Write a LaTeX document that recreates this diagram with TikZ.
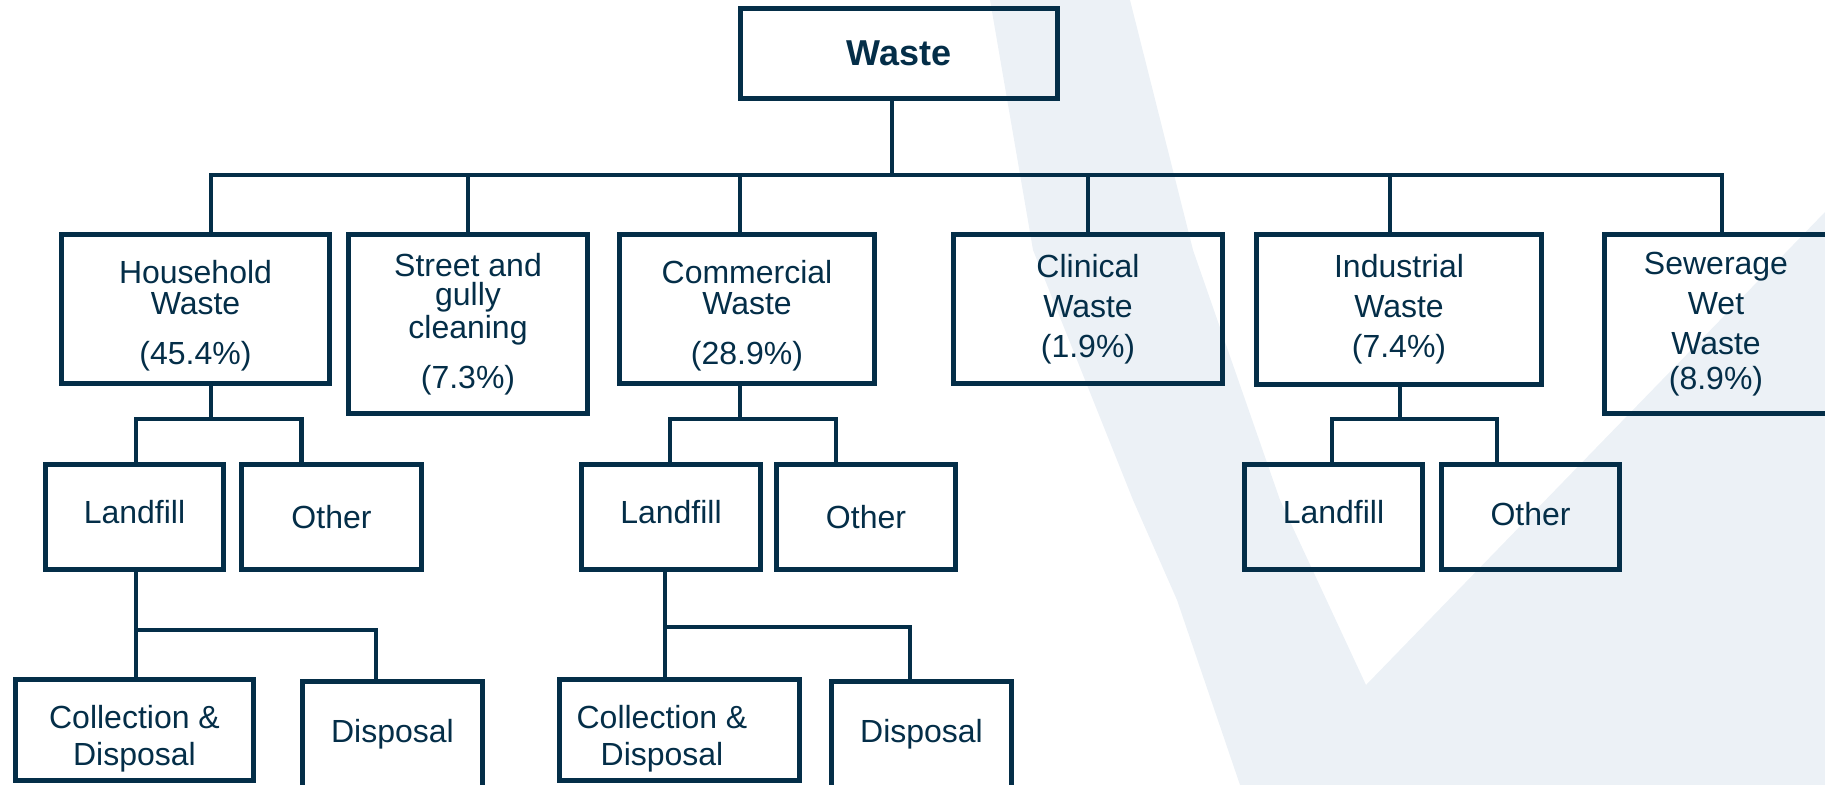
\documentclass[tikz,border=0pt]{standalone}
\usepackage{fontspec}
\setmainfont{Liberation Sans}
\usetikzlibrary{calc}

\definecolor{navy}{RGB}{4,46,72}
\definecolor{markgray}{RGB}{236,241,246}

% invisible struts to nudge the text inside a box
\newcommand{\topgap}[1]{\rule{0pt}{#1}}
\newcommand{\lowgap}[1]{\rule[-#1]{0pt}{#1}}

\tikzset{
    box/.style={draw=navy, line width=2.4pt, text=navy, align=center, inner sep=0pt,
        font=\fontsize{16}{20}\selectfont},
    boxsize/.style 2 args={minimum width=#1*0.5pt, minimum height=#2*0.5pt},
    link/.style={draw=navy, line width=2.2pt}
}

\begin{document}
\begin{tikzpicture}[x=0.5pt, y=-0.5pt]
    \useasboundingbox (0,0) rectangle (1825,785);
    \clip (0,0) rectangle (1825,785);

    % faint mark behind the chart
    \fill[markgray] (990,0) -- (1033,250) -- (1133,500) -- (1177,600) -- (1240,785)
        -- (1825,785) -- (1825,212) -- (1366,685) -- (1280,500) -- (1193,250) -- (1130,0) -- cycle;

    % top level
    \node[box, boxsize={317}{90}, font=\fontsize{18}{22}\selectfont\bfseries] (waste) at (899,53.5) {Waste};

    \node[box, boxsize={268}{149}] (household) at (195.5,309) {\topgap{18.5pt}Household\\[-4.5pt]Waste\\[5pt](45.4\%)};
    \node[box, boxsize={239}{179}] (street) at (468,324) {Street and\\[-5.5pt]gully\\[-3.5pt]cleaning\\[5pt](7.3\%)};
    \node[box, boxsize={255}{149}] (commercial) at (747,309) {\topgap{18.5pt}Commercial\\[-4.5pt]Waste\\[5pt](28.9\%)};
    \node[box, boxsize={269}{149}] (clinical) at (1088,309) {Clinical\\Waste\\(1.9\%)};
    \node[box, boxsize={285}{150}] (industrial) at (1399,309.5) {Industrial\\Waste\\(7.4\%)};
    \node[box, boxsize={223}{179}] (sewerage) at (1716,324) {Sewerage\\Wet\\Waste\\[-2.5pt](8.9\%)};

    % second level
    \node[box, boxsize={178}{105}] (hland) at (134.5,517) {Landfill\lowgap{5pt}};
    \node[box, boxsize={180}{105}] (hother) at (331.5,517) {Other};
    \node[box, boxsize={179}{105}] (cland) at (671,517) {Landfill\lowgap{5pt}};
    \node[box, boxsize={179}{105}] (cother) at (866,517) {Other};
    \node[box, boxsize={178}{105}] (iland) at (1333.5,517) {Landfill\lowgap{5pt}};
    \node[box, boxsize={178}{105}] (iother) at (1530.5,517) {Other\lowgap{3pt}};

    % third level
    \node[box, boxsize={238}{101}] (hcoll) at (134.5,730) {\topgap{20.5pt}Collection \&\\[-1.5pt]Disposal};
    \node[box, boxsize={180}{111}] (hdisp) at (392.5,737) {Disposal\lowgap{6pt}};
    \node[box, boxsize={240}{101}] (ccoll) at (679.5,730) {\topgap{20.5pt}Collection \&\hspace*{17.5pt}\\[-1.5pt]Disposal\hspace*{17.5pt}};
    \node[box, boxsize={180}{111}] (cdisp) at (921.5,737) {Disposal\lowgap{6pt}};

    % buses
    \coordinate (bus) at (892,175);
    \coordinate (hbus) at (211,419);
    \coordinate (cbus) at (740,419);
    \coordinate (ibus) at (1400,419);
    \coordinate (hlbus) at (136,630);
    \coordinate (clbus) at (665,627);

    \draw[link] (waste.south -| bus) -- (bus);
    \draw[link] ($(household.north)+(15.5,0)$) |- (bus);
    \draw[link] (street.north) |- (bus);
    \draw[link] ($(commercial.north)+(-7,0)$) |- (bus);
    \draw[link] (clinical.north) |- (bus);
    \draw[link] ($(industrial.north)+(-9,0)$) |- (bus);
    \draw[link] ($(sewerage.north)+(6,0)$) |- (bus);

    \draw[link] ($(household.south)+(15.5,0)$) -- (hbus);
    \draw[link] ($(hland.north)+(1.5,0)$) |- (hbus);
    \draw[link] ($(hother.north)+(-30,0)$) |- (hbus);

    \draw[link] ($(commercial.south)+(-7,0)$) -- (cbus);
    \draw[link] ($(cland.north)+(-1,0)$) |- (cbus);
    \draw[link] ($(cother.north)+(-30,0)$) |- (cbus);

    \draw[link] ($(industrial.south)+(1,0)$) -- (ibus);
    \draw[link] ($(iland.north)+(-1.5,0)$) |- (ibus);
    \draw[link] ($(iother.north)+(-33.5,0)$) |- (ibus);

    \draw[link] ($(hland.south)+(1.5,0)$) -- (hlbus);
    \draw[link] ($(hcoll.north)+(1.5,0)$) |- (hlbus);
    \draw[link] ($(hdisp.north)+(-16.5,0)$) |- (hlbus);

    \draw[link] ($(cland.south)+(-6,0)$) -- (clbus);
    \draw[link] ($(ccoll.north)+(-14.5,0)$) |- (clbus);
    \draw[link] ($(cdisp.north)+(-11.5,0)$) |- (clbus);
\end{tikzpicture}
\end{document}
